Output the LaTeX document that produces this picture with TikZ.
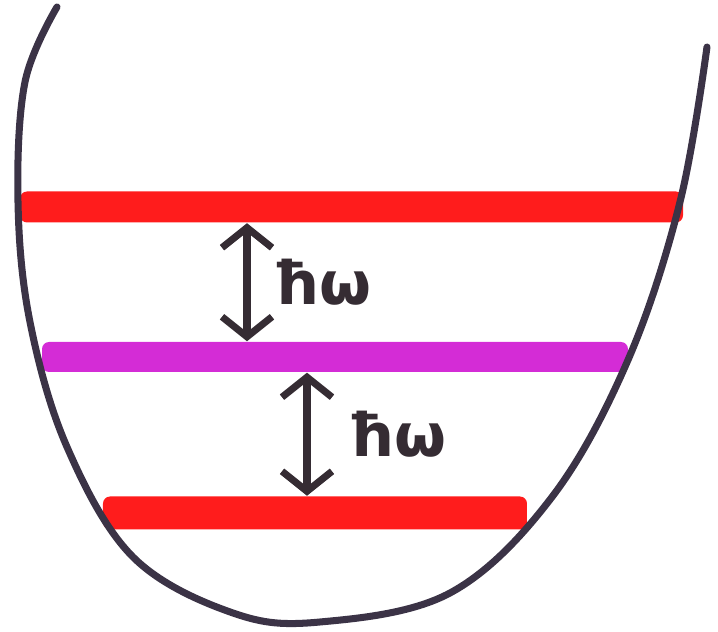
\documentclass[tikz,border=0pt]{standalone}
\usepackage{fontspec}
\usepackage{tikz}
\usetikzlibrary{positioning, arrows.meta}
\newfontfamily\handfont{DejaVu Sans}
\definecolor{wellInk}{HTML}{3B3346}
\definecolor{levelRed}{HTML}{FF1C1C}
\definecolor{levelMagenta}{HTML}{D42CD6}
\definecolor{penInk}{HTML}{352C33}

\begin{document}
\begin{tikzpicture}[
      bar/.style={rectangle, rounded corners=2pt, inner sep=0pt, minimum height=0.31cm},
      gap/.style={{Straight Barb[length=2mm, width=5mm, line width=2pt]}-{Straight Barb[length=2mm, width=5mm, line width=2pt]}, penInk, line width=2pt, line cap=round},
      lbl/.style={anchor=west, inner sep=0pt, text=penInk, font=\handfont\bfseries\fontsize{17}{20}\selectfont}
    ]
      \useasboundingbox (0,0) rectangle (7.18,6.32);

      \node[bar, fill=levelRed, minimum width=6.63cm] (e2) at (3.515,4.25) {};
      \node[bar, fill=levelMagenta, minimum width=5.86cm, minimum height=0.30cm] (e1) at (3.35,2.75) {};
      \node[bar, fill=levelRed, minimum width=4.24cm, minimum height=0.33cm] (e0) at (3.15,1.19) {};

      % potential well
      \draw[wellInk, line width=2pt, line cap=round] plot[smooth, tension=0.6] coordinates {
        (0.57,6.25) (0.25,5.5) (0.18,4.3) (0.30,3.1) (0.67,1.85) (1.33,0.75)
        (2.33,0.19) (3.2,0.10) (4.50,0.39) (5.52,1.35) (6.28,2.72) (6.80,4.3) (7.07,5.85)};

      \coordinate (a1) at (2.47,0);
      \coordinate (a2) at (3.07,0);
      \draw[gap] (a1 |- e2.south) -- (a1 |- e1.north) coordinate[midway] (m1);
      \draw[gap] (a2 |- e1.south) -- (a2 |- e0.north) coordinate[midway] (m2);

      \node[lbl, right=0.25cm of m1] (q1) {ħω};
      \node[lbl, right=0.4cm of m2] (q0) {ħω};
    \end{tikzpicture}
\end{document}
